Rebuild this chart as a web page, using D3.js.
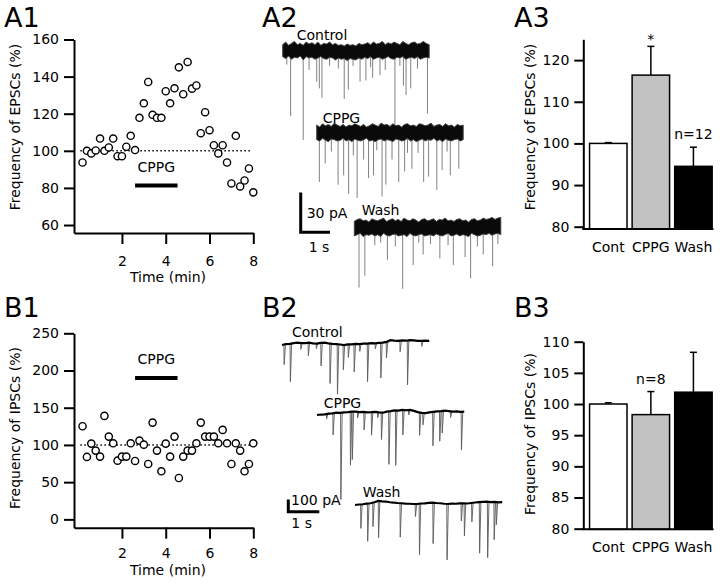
<!DOCTYPE html>
<html><head><meta charset="utf-8">
<script src="https://cdn.jsdelivr.net/npm/d3@7"></script>
<style>
body{margin:0;background:#fff}
text{font-family:"DejaVu Sans",Verdana,sans-serif;fill:#000}
</style></head>
<body><svg id="c" width="720" height="584"></svg>
<script>
// ---------------- DATA ----------------
const timeMin = [0.2,0.4,0.6,0.8,1.0,1.2,1.4,1.6,1.8,2.0,2.2,2.4,2.6,2.8,3.0,3.2,3.4,3.6,3.8,4.0,
                 4.2,4.4,4.6,4.8,5.0,5.2,5.4,5.6,5.8,6.0,6.2,6.4,6.6,6.8,7.0,7.2,7.4,7.6,7.8,8.0];
const epscFreq = [93.7,100,98.6,100.2,106.6,100,101.8,106.6,97.1,97.1,102.2,108.1,100.4,117.8,125.6,137.1,119.4,117.8,117.8,132.1,
                  125.6,133.7,145,130.5,147.9,133.5,135.2,109.5,120.8,111.1,103,98.6,103,93.7,82.4,108.1,80.8,84,90.5,77.6];
const ipscFreq = [125.1,83.9,101.8,92.4,84.3,139,111.2,102.2,78.9,84.3,84.3,102.2,78.5,105.8,100.4,74.4,130,92.4,64.6,101.8,
                  84.3,111.2,55.6,84.3,92.4,92.4,102.2,130,111.2,111.2,111.2,102.2,120.2,102.2,74.4,102.2,92.4,64.6,74.4,102.2];
const timeTicks = [2,4,6,8];
const epscTicks = [60,80,100,120,140,160];
const ipscTicks = [0,50,100,150,200,250];
const cppgWindow = [2.6,4.54];
const baselineLine = [0.1,7.85];

const barCats = ["Cont","CPPG","Wash"];
const epscBarMean = [100,116.4,94.5];
const epscBarSem  = [0.2,6.9,4.6];
const ipscBarMean = [100,98.3,101.9];
const ipscBarSem  = [0.2,3.7,6.4];
const epscBarTicks = [80,90,100,110,120];
const ipscBarTicks = [80,85,90,95,100,105,110];

// A2 (EPSC traces): envelope of baseline noise (pA) every 0.1 s, events [time s, pA]
const envTimes = [0,0.1,0.2,0.3,0.4,0.5,0.6,0.7,0.8,0.9,1.0,1.1,1.2,1.3,1.4,1.5,1.6,1.7,1.8,1.9,2.0,2.1,2.2,2.3,2.4,
  2.5,2.6,2.7,2.8,2.9,3.0,3.1,3.2,3.3,3.4,3.5,3.6,3.7,3.8,3.9,4.0,4.1,4.2,4.3,4.4,4.5,4.6,4.7,4.8,4.9,5.0];
const ctrlTop = [4,6,3.5,5,6.5,4,5,3.5,6,4.5,5.5,4,6,3.5,5,4.5,6,4,5,3.5,4,3,4.5,3.5,4,3,5,4,4.5,5.5,4,6,4.5,5,6.5,4,5.5,4.5,6,5,4,6.5,5,4,5.5,6,4.5,5,6.5,5,4];
const ctrlBot = [-5,-6.5,-4.5,-7,-5.5,-6,-4.5,-7.5,-5,-6,-5.5,-7,-6,-5,-6.5,-7,-5.5,-6,-7.5,-6,-7,-6.5,-8,-6.5,-7,-7.5,-6,-7,-5.5,-6.5,-5,-7,-6,-5.5,-7,-6,-5,-6.5,-7,-5.5,-6,-5,-7,-6,-5.5,-6.5,-5,-7,-6,-5.5,-6];
const cppgTop = [5,3.5,6,4.5,5.5,4,6.5,5,4,5.5,3.5,5,4.5,6,5,4,5.5,3.5,4.5,6,5,4,6.5,5,5.5,4,6,4.5,5,3.5,5.5,6,4.5,5,4,6,5.5,4.5,5,6.5,4,5,5.5,4,6,4.5,5,3.5,5.5,4.5,5];
const cppgBot = [-6,-7,-5,-6.5,-7.5,-5.5,-6,-7,-6.5,-5,-7,-6,-7.5,-5.5,-6.5,-7,-6,-5,-7,-6.5,-7.5,-6,-5.5,-7,-6,-6.5,-7.5,-5.5,-6,-7,-6.5,-5,-7,-6,-7.5,-6.5,-5.5,-7,-6,-6.5,-5,-7,-6,-7.5,-5.5,-6.5,-7,-6,-5.5,-7,-6];
const washTop = [4,5.5,6,4.5,5,3.5,6,5,4.5,5.5,6.5,4,5,6,4.5,5.5,4,6.5,5,4.5,6,5,3.5,5.5,6,4.5,5,6,4,5.5,5,6.5,4.5,5,4,5.5,6,4.5,5,3.5,5.5,6,4.5,5,6.5,5.5,6,7,5.5,6.5,7];
const washBot = [-7,-6,-5,-7.5,-6,-6.5,-5.5,-7,-6,-7.5,-5,-6.5,-7,-6,-5.5,-7,-6.5,-6,-7.5,-5,-6.5,-7,-6,-5.5,-7,-6.5,-6,-7,-5.5,-6.5,-7,-6,-5,-7,-6.5,-5.5,-7,-6,-6.5,-7.5,-5,-6,-7,-6.5,-5.5,-6,-5,-6.5,-5.5,-5,-6];
const ctrlEvents = [[0.27,-50],[0.70,-68],[1.16,-24],[1.25,-29],[1.34,-36],[2.10,-37],[2.24,-30],[2.64,-24],[2.84,-23],
  [3.07,-21],[3.32,-19],[3.83,-57],[4.12,-27],[4.21,-34],[4.37,-29],[4.94,-48],
  [0.14,-11],[0.90,-15],[1.90,-14],[2.40,-12],[3.50,-15],[4.60,-14],[1.60,-12],[3.00,-13],[4.00,-12]];
const cppgEvents = [[0.09,-38],[0.29,-24],[0.73,-40],[0.92,-33],[1.09,-47],[1.38,-50],[1.60,-21],[1.77,-35],[1.94,-33],
  [2.23,-49],[2.36,-40],[2.57,-21],[2.80,-38],[3.00,-30],[3.25,-28],[3.46,-16],[3.65,-38],[3.82,-34],[4.10,-44],
  [4.28,-29],[4.56,-33],[4.85,-28],[0.50,-15],[1.25,-18],[2.05,-14],[3.10,-16],[4.45,-15]];
const washEvents = [[0.16,-46],[0.36,-37],[1.13,-25],[1.65,-47],[2.01,-29],[2.35,-21],[2.92,-24],[3.38,-29],[3.78,-23],
  [3.97,-39],[4.40,-21],[4.72,-30],[0.70,-14],[1.40,-15],[2.60,-13],[3.20,-14],[4.20,-15],[0.90,-12],[2.20,-12],[4.90,-13]];

// B2 (IPSC traces): baseline (pA) every 0.125 s, events [time s, pA]
const ipTimes = [0,0.125,0.25,0.375,0.5,0.625,0.75,0.875,1.0,1.125,1.25,1.375,1.5,1.625,1.75,1.875,2.0,2.125,2.25,2.375,
  2.5,2.625,2.75,2.875,3.0,3.125,3.25,3.375,3.5,3.625,3.75,3.875,4.0,4.125,4.25,4.375,4.5,4.625,4.75];
const ipCtrlBase = [-14,-6,-4,2,5,1,2,6,0,-3,3,5,0,-4,-6,-10,-14,-9,-8,-4,-6,-2,-3,1,0,3,5,12,25,22,20,24,21,25,24,20,20,22,19];
const ipCppgBase = [-14,-10,-8,-3,0,5,4,8,10,14,13,9,11,7,9,12,8,5,14,18,24,22,27,25,27,20,10,4,2,8,12,16,18,21,18,14,15,12,13];
const ipWashBase = [-8,-4,-2,3,6,14,25,22,20,14,11,8,6,3,2,0,0,4,5,9,11,8,6,2,0,3,2,5,6,4,8,12,15,18,19,16,17,14,16];
const ipCtrlEvents = [[0.06,-163],[0.26,-309],[0.84,-106],[1.25,-187],[1.54,-325],[1.78,-407],[1.97,-203],[2.13,-106],
  [2.32,-228],[2.75,-309],[3.18,-285],[3.36,-130],[3.80,-90],[4.04,-360],[0.6,-50],[1.1,-40],[2.5,-60],[3.0,-45],[4.5,-45]];
const ipCppgEvents = [[0.51,-176],[0.76,-705],[1.07,-434],[1.13,-390],[1.51,-146],[1.75,-187],[2.07,-220],[2.31,-431],
  [2.53,-447],[2.76,-203],[3.30,-187],[3.41,-98],[3.73,-276],[3.95,-244],[4.03,-179],[4.65,-309],
  [0.3,-40],[1.3,-50],[1.95,-45],[2.95,-40],[4.3,-50]];
const ipWashEvents = [[0.18,-195],[0.40,-306],[0.57,-195],[0.75,-300],[1.45,-276],[1.94,-102],[2.07,-415],[2.51,-333],
  [2.96,-455],[3.42,-143],[3.52,-265],[3.76,-154],[4.01,-415],[4.27,-455],[4.48,-306],[4.55,-184]];

// ---------------- DRAW ----------------
const svg = d3.select("#c");
const FS = 14;

function styleAxis(g){
  g.selectAll("path.domain").attr("stroke","#000").attr("stroke-width",2);
  g.selectAll(".tick line").attr("stroke","#000").attr("stroke-width",2);
  g.selectAll(".tick text").attr("font-size",FS).attr("font-family",'"DejaVu Sans",Verdana,sans-serif').attr("fill","#000");
}
function panelLabel(txt,x,y){
  svg.append("text").attr("x",x).attr("y",y).attr("font-size",27).text(txt);
}
function yTitle(txt,x,y){
  svg.append("text").attr("transform",`translate(${x},${y}) rotate(-90)`).attr("text-anchor","middle")
    .attr("dominant-baseline","central").attr("font-size",FS).text(txt);
}

// ---- scatter panels (A1, B1)
function scatter(opts){
  const x = d3.scaleLinear().domain([-0.19,8]).range([74,253.3]);
  const y = d3.scaleLinear().domain(opts.ydom).range(opts.yrange);
  const g = svg.append("g");
  const ya = g.append("g").attr("transform","translate(74,0)")
     .call(d3.axisLeft(y).tickValues(opts.ticks).tickSize(10).tickPadding(5).tickSizeOuter(0));
  styleAxis(ya);
  const xa = g.append("g").attr("transform",`translate(0,${opts.yrange[0]})`)
     .call(d3.axisBottom(x).tickValues(timeTicks).tickSize(11).tickPadding(opts.xpad).tickSizeOuter(0));
  styleAxis(xa);
  g.append("line").attr("x1",x(baselineLine[0])).attr("x2",x(baselineLine[1]))
    .attr("y1",y(100)).attr("y2",y(100)).attr("stroke","#000").attr("stroke-width",1.5).attr("stroke-dasharray","1.5,2.5");
  g.append("line").attr("x1",x(cppgWindow[0])).attr("x2",x(cppgWindow[1]))
    .attr("y1",y(opts.barV)).attr("y2",y(opts.barV)).attr("stroke","#000").attr("stroke-width",4);
  g.append("text").attr("x",(x(cppgWindow[0])+x(cppgWindow[1]))/2).attr("y",y(opts.barV)-14)
    .attr("text-anchor","middle").attr("font-size",FS).text("CPPG");
  g.selectAll("circle").data(opts.vals).join("circle")
    .attr("cx",(d,i)=>x(timeMin[i])).attr("cy",d=>y(d)).attr("r",3.6)
    .attr("fill","#fff").attr("stroke","#000").attr("stroke-width",1.4);
  g.append("text").attr("x",168).attr("y",opts.yrange[0]+opts.tOff).attr("text-anchor","middle").attr("font-size",FS).text("Time (min)");
  yTitle(opts.title,15,opts.titleY);
}
scatter({ydom:[55.7,160],yrange:[233,39.5],ticks:epscTicks,vals:epscFreq,barV:81.3,xpad:12,tOff:49,title:"Frequency of EPSCs (%)",titleY:127});
scatter({ydom:[-11.2,250],yrange:[527.7,333.3],ticks:ipscTicks,vals:ipscFreq,barV:190.1,xpad:9,tOff:47.5,title:"Frequency of IPSCs (%)",titleY:428});

// ---- bar panels (A3, B3)
function bars(opts){
  const x = d3.scaleBand().domain(barCats).range([587,714.7]).paddingInner(0.12).paddingOuter(0.06);
  const y = d3.scaleLinear().domain(opts.ydom).range(opts.yrange);
  const g = svg.append("g");
  const fills = ["#fff","#c2c2c2","#000"];
  barCats.forEach((c,i)=>{
    const cx = x(c)+x.bandwidth()/2;
    g.append("line").attr("x1",cx).attr("x2",cx).attr("y1",y(opts.mean[i])).attr("y2",y(opts.mean[i]+opts.sem[i]))
      .attr("stroke","#000").attr("stroke-width",1.5);
    g.append("line").attr("x1",cx-3.5).attr("x2",cx+3.5).attr("y1",y(opts.mean[i]+opts.sem[i])).attr("y2",y(opts.mean[i]+opts.sem[i]))
      .attr("stroke","#000").attr("stroke-width",1.5);
  });
  g.selectAll("rect").data(opts.mean).join("rect")
    .attr("x",(d,i)=>x(barCats[i])).attr("width",x.bandwidth())
    .attr("y",d=>y(d)).attr("height",d=>opts.yrange[0]-y(d))
    .attr("fill",(d,i)=>fills[i]).attr("stroke","#000").attr("stroke-width",1.5);
  const ya = g.append("g").attr("transform","translate(583.3,0)")
     .call(d3.axisLeft(y).tickValues(opts.ticks).tickSize(9).tickPadding(5).tickSizeOuter(0));
  styleAxis(ya);
  g.append("line").attr("x1",582.3).attr("x2",713.5).attr("y1",opts.yrange[0]).attr("y2",opts.yrange[0])
    .attr("stroke","#000").attr("stroke-width",2);
  g.selectAll("text.cat").data(barCats).join("text").attr("class","cat")
    .attr("x",d=>x(d)+x.bandwidth()/2).attr("y",opts.yrange[0]+23).attr("text-anchor","middle").attr("font-size",FS).text(d=>d);
  opts.notes.forEach(n=>{
    const i = barCats.indexOf(n.cat);
    g.append("text").attr("x",x(n.cat)+x.bandwidth()/2).attr("y",y(opts.mean[i]+opts.sem[i])-n.off)
      .attr("text-anchor","middle").attr("font-size",FS).text(n.txt);
  });
  yTitle(opts.title,530,opts.titleY);
}
bars({ydom:[79.45,125],yrange:[229,39.3],ticks:epscBarTicks,mean:epscBarMean,sem:epscBarSem,
      notes:[{cat:"CPPG",txt:"*",off:2},{cat:"Wash",txt:"n=12",off:8}],title:"Frequency of EPSCs (%)",titleY:127});
bars({ydom:[79.9,110],yrange:[529.3,341.7],ticks:ipscBarTicks,mean:ipscBarMean,sem:ipscBarSem,
      notes:[{cat:"CPPG",txt:"n=8",off:8}],title:"Frequency of IPSCs (%)",titleY:434});

// ---- EPSC traces (A2)
const A2pxS = 29.3, A2pxPA = 1.323;
function epscTrace(x0,base,top,bot,events,label,lx,ly){
  const x = d3.scaleLinear().domain([0,5]).range([x0,x0+5*A2pxS]);
  const y = d3.scaleLinear().domain([0,-30]).range([base,base+30*A2pxPA]);
  const g = svg.append("g");
  g.selectAll("line.ev").data(events).join("line").attr("class","ev")
    .attr("x1",d=>x(d[0])).attr("x2",d=>x(d[0])).attr("y1",y(0)).attr("y2",d=>y(d[1]))
    .attr("stroke","#808080").attr("stroke-width",1);
  const area = d3.area().x((d,i)=>x(envTimes[i])).y0((d,i)=>y(bot[i])).y1((d,i)=>y(top[i]));
  g.append("path").datum(top).attr("d",area).attr("fill","#0a0a0a").attr("stroke","#444").attr("stroke-width",1);
  g.append("text").attr("x",lx).attr("y",ly).attr("font-size",FS).text(label);
}
epscTrace(282.7,50,ctrlTop,ctrlBot,ctrlEvents,"Control",296.7,39.5);
epscTrace(316.7,131.7,cppgTop,cppgBot,cppgEvents,"CPPG",322.7,122.7);
epscTrace(354.3,226.7,washTop,washBot,washEvents,"Wash",361.7,215);
{
  const ox=300.7, oy=232.3;
  const h = 30*A2pxPA, w = 1*A2pxS;
  svg.append("path").attr("d",`M${ox},${oy-h}V${oy}H${ox+w}`).attr("fill","none").attr("stroke","#000").attr("stroke-width",3);
  svg.append("text").attr("x",306.7).attr("y",217.5).attr("font-size",FS).text("30 pA");
  svg.append("text").attr("x",319).attr("y",252).attr("text-anchor","middle").attr("font-size",FS).text("1 s");
}

// ---- IPSC traces (B2)
const B2pxS = 31, B2pxPA = 0.123;
function ipscTrace(x0,base,baseVals,events,label,lx,ly){
  const x = d3.scaleLinear().domain([0,4.75]).range([x0,x0+4.75*B2pxS]);
  const y = d3.scaleLinear().domain([0,-100]).range([base,base+100*B2pxPA]);
  const bl = d3.scaleLinear().domain(ipTimes).range(baseVals);
  const g = svg.append("g");
  g.selectAll("path.ev").data(events).join("path").attr("class","ev")
    .attr("d",d=>{const b=bl(d[0]);return `M${x(d[0])},${y(b)}L${x(d[0])+0.3},${y(b+d[1])}L${x(d[0])+1.6},${y(b)}`;})
    .attr("fill","none").attr("stroke","#5a5a5a").attr("stroke-width",0.9);
  const line = d3.line().x((d,i)=>x(ipTimes[i])).y(d=>y(d));
  g.append("path").datum(baseVals).attr("d",line).attr("fill","none").attr("stroke","#000").attr("stroke-width",2.2);
  g.append("text").attr("x",lx).attr("y",ly).attr("font-size",FS).text(label);
}
ipscTrace(282,343.3,ipCtrlBase,ipCtrlEvents,"Control",292,337.3);
ipscTrace(317,413.3,ipCppgBase,ipCppgEvents,"CPPG",323.7,408.3);
ipscTrace(355,504,ipWashBase,ipWashEvents,"Wash",362.7,496.7);
{
  const ox=288.3, oy=511.7;
  const h = 100*B2pxPA, w = 1*B2pxS;
  svg.append("path").attr("d",`M${ox},${oy-h}V${oy}H${ox+w}`).attr("fill","none").attr("stroke","#000").attr("stroke-width",3);
  svg.append("text").attr("x",291).attr("y",504.5).attr("font-size",FS).text("100 pA");
  svg.append("text").attr("x",301.7).attr("y",527.7).attr("text-anchor","middle").attr("font-size",FS).text("1 s");
}

// panel labels
panelLabel("A1",4,27);
panelLabel("A2",262,27);
panelLabel("A3",514,27);
panelLabel("B1",4,317);
panelLabel("B2",262,317);
panelLabel("B3",514,317);
</script>
</body></html>
